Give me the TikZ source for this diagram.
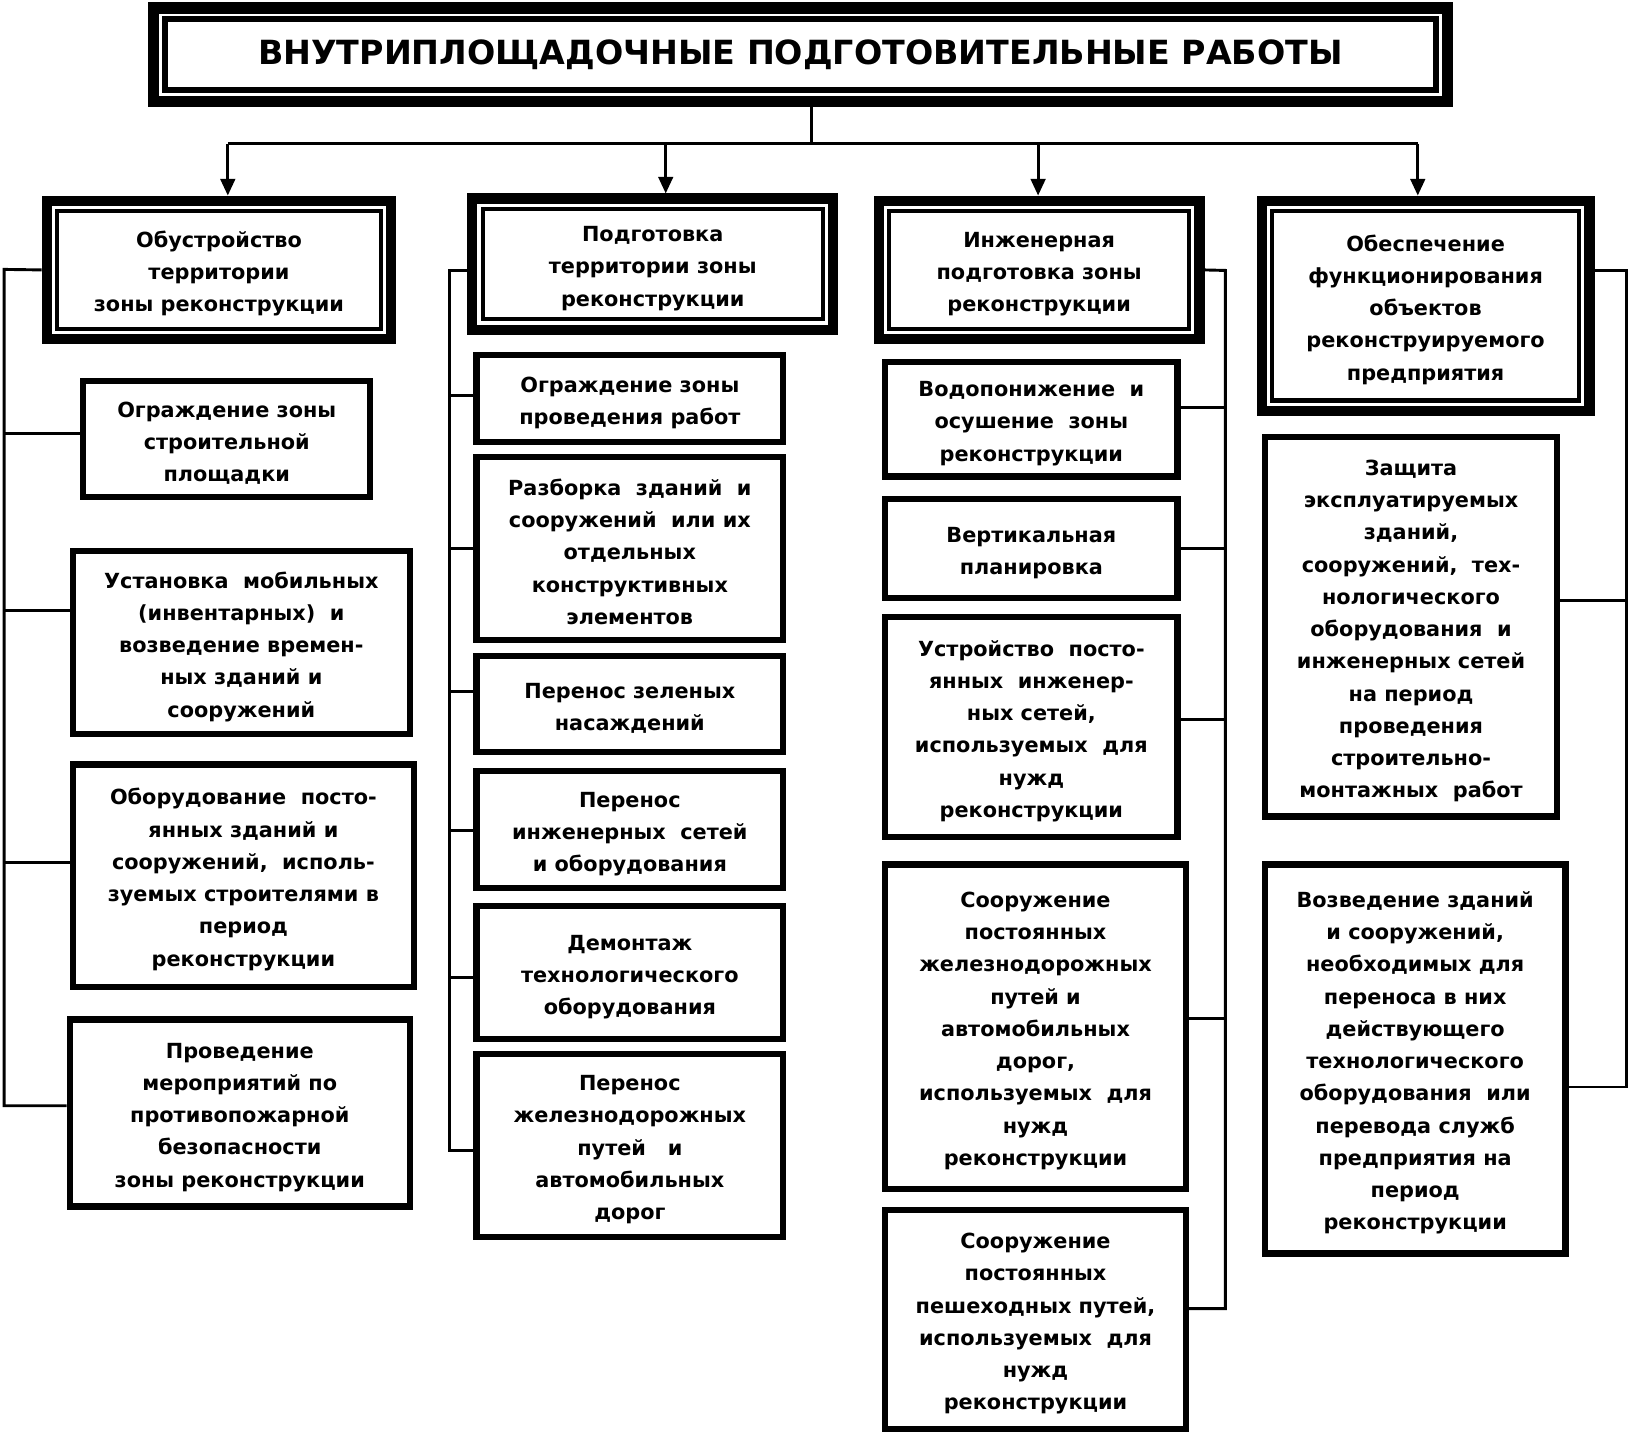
\documentclass[tikz,border=0pt]{standalone}
\usepackage{fontspec}
\setmainfont{DejaVu Sans}
\usetikzlibrary{arrows.meta}
\newcommand\fstr{\rule{0pt}{11.5pt}}
\begin{document}
\begin{tikzpicture}[x=0.5pt,y=-0.5pt,
  txt/.style={align=center, font=\bfseries\fontsize{10}{15.5}\selectfont, inner sep=0pt},
  box/.style={txt, draw, line width=3pt},
  hdr/.style={txt, draw, line width=5pt},
  conn/.style={line width=1.4pt},
  arr/.style={line width=1.4pt, -{Triangle[width=7pt,length=8pt]}},
  innerline/.style={line width=2pt}]
\useasboundingbox (0,0) rectangle (1568,1380);

% title
\node[draw, line width=5.5pt, inner sep=0pt, minimum width=622pt, minimum height=45pt,
      font=\bfseries\fontsize{16}{20}\selectfont] (title) at (769.5,52.5)
      {ВНУТРИПЛОЩАДОЧНЫЕ ПОДГОТОВИТЕЛЬНЫЕ РАБОТЫ};

% headers
\node[hdr, minimum width=165.5pt, minimum height=66.5pt] (h1) at (210.5,259.5)
  {\fstr Обустройство\\территории\\зоны реконструкции};
\node[hdr, minimum width=173.5pt, minimum height=63pt] (h2) at (627.5,254)
  {\fstr Подготовка\\территории зоны\\реконструкции};
\node[hdr, minimum width=154pt, minimum height=66.5pt] (h3) at (999,259.5)
  {\fstr Инженерная\\подготовка зоны\\реконструкции};
\node[hdr, minimum width=157.5pt, minimum height=101pt] (h4) at (1370.5,294)
  {\fstr Обеспечение\\функционирования\\объектов\\реконструируемого\\предприятия};

\foreach \n in {h1,h2,h3,h4}
  \draw[innerline] ([shift={(7.5pt,-7.5pt)}]\n.north west) rectangle ([shift={(-7.5pt,7.5pt)}]\n.south east);
\draw[line width=3pt] ([shift={(8.2pt,-8.2pt)}]title.north west) rectangle ([shift={(-8.2pt,8.2pt)}]title.south east);

% column 1
\node[box, minimum width=138pt, minimum height=56pt] (c11) at (218,422)
  {\fstr Ограждение зоны\\строительной\\площадки};
\node[box, minimum width=162pt, minimum height=88pt] (c12) at (232,618)
  {\fstr Установка\ \ мобильных\\(инвентарных)\ \ и\\возведение времен-\\ных зданий и\\сооружений};
\node[box, minimum width=164pt, minimum height=107pt] (c13) at (234,842)
  {\fstr Оборудование\ \ посто-\\янных зданий и\\сооружений,\ \ исполь-\\зуемых строителями в\\период\\реконструкции};
\node[box, minimum width=163.5pt, minimum height=90pt] (c14) at (230.5,1070)
  {\fstr Проведение\\мероприятий по\\противопожарной\\безопасности\\зоны реконструкции};

% column 2
\node[box, minimum width=147.5pt, minimum height=42pt] (c21) at (605.5,383)
  {\fstr Ограждение зоны\\проведения работ};
\node[box, minimum width=147.5pt, minimum height=88pt] (c22) at (605.5,527)
  {\fstr Разборка\ \ зданий\ \ и\\сооружений\ \ или их\\отдельных\\конструктивных\\элементов};
\node[box, minimum width=147.5pt, minimum height=46pt] (c23) at (605.5,677)
  {\fstr Перенос зеленых\\насаждений};
\node[box, minimum width=147.5pt, minimum height=56.5pt] (c24) at (605.5,797.5)
  {\fstr Перенос\\инженерных\ \ сетей\\и оборудования};
\node[box, minimum width=147.5pt, minimum height=64pt] (c25) at (605.5,935)
  {\fstr Демонтаж\\технологического\\оборудования};
\node[box, minimum width=147.5pt, minimum height=88pt] (c26) at (605.5,1101)
  {\fstr Перенос\\железнодорожных\\путей\ \ \ и\\автомобильных\\дорог};

% column 3
\node[box, minimum width=140.5pt, minimum height=55pt] (c31) at (991.5,403)
  {\fstr Водопонижение\ \ и\\осушение\ \ зоны\\реконструкции};
\node[box, minimum width=140.5pt, minimum height=47.5pt] (c32) at (991.5,527.5)
  {\fstr Вертикальная\\планировка};
\node[box, minimum width=140.5pt, minimum height=106pt] (c33) at (991.5,699)
  {\fstr Устройство\ \ посто-\\янных\ \ инженер-\\ных сетей,\\используемых\ \ для\\нужд\\реконструкции};
\node[box, minimum width=144.5pt, minimum height=156pt] (c34) at (995.5,987)
  {\fstr Сооружение\\постоянных\\железнодорожных\\путей и\\автомобильных\\дорог,\\используемых\ \ для\\нужд\\реконструкции};
\node[box, minimum width=144.5pt, minimum height=105.5pt] (c35) at (995.5,1268.5)
  {\fstr Сооружение\\постоянных\\пешеходных путей,\\используемых\ \ для\\нужд\\реконструкции};

% column 4
\node[box, minimum width=140.5pt, minimum height=182.5pt] (c41) at (1356.5,602.5)
  {\fstr Защита\\эксплуатируемых\\зданий,\\сооружений,\ \ тех-\\нологического\\оборудования\ \ и\\инженерных сетей\\на период\\проведения\\строительно-\\монтажных\ \ работ};
\node[box, minimum width=144.5pt, minimum height=187pt] (c42) at (1360.5,1018)
  {\fstr Возведение зданий\\и сооружений,\\необходимых для\\переноса в них\\действующего\\технологического\\оборудования\ \ или\\перевода служб\\предприятия на\\период\\реконструкции};

% top connectors
\coordinate (trunk) at (780,138);
\coordinate (bus1) at (219,138);
\coordinate (bus2) at (640,138);
\coordinate (bus3) at (998,138);
\coordinate (bus4) at (1363,138);
\draw[conn] (trunk |- title.south) -- (trunk);
\draw[conn] (bus1) -- (bus4);
\draw[arr] (bus1) -- (bus1 |- h1.north);
\draw[arr] (bus2) -- (bus2 |- h2.north);
\draw[arr] (bus3) -- (bus3 |- h3.north);
\draw[arr] (bus4) -- (bus4 |- h4.north);

% column 1 bracket
\coordinate (v1t) at (4,259);
\coordinate (v1b) at (4,1063);
\draw[conn] (h1.west) -- (v1t) -- (v1b) -- (c14.west |- v1b);
\draw[conn] (v1t |- 0,417) -- (c11.west |- 0,417);
\draw[conn] (v1t |- 0,587) -- (c12.west |- 0,587);
\draw[conn] (v1t |- 0,829) -- (c13.west |- 0,829);

% column 2 bracket
\coordinate (v2t) at (432,260);
\coordinate (v2b) at (432,1106);
\draw[conn] (h2.west |- v2t) -- (v2t) -- (v2b) -- (c26.west |- v2b);
\draw[conn] (v2t |- 0,380) -- (c21.west |- 0,380);
\draw[conn] (v2t |- 0,527) -- (c22.west |- 0,527);
\draw[conn] (v2t |- 0,665) -- (c23.west |- 0,665);
\draw[conn] (v2t |- 0,798) -- (c24.west |- 0,798);
\draw[conn] (v2t |- 0,940) -- (c25.west |- 0,940);

% column 3 bracket
\coordinate (v3t) at (1178,260);
\coordinate (v3b) at (1178,1258);
\draw[conn] (h3.east) -- (v3t) -- (v3b) -- (c35.east |- v3b);
\draw[conn] (v3t |- 0,392) -- (c31.east |- 0,392);
\draw[conn] (v3t |- 0,527) -- (c32.east |- 0,527);
\draw[conn] (v3t |- 0,692) -- (c33.east |- 0,692);
\draw[conn] (v3t |- 0,979) -- (c34.east |- 0,979);

% column 4 bracket
\coordinate (v4t) at (1564,260);
\coordinate (v4b) at (1564,1045);
\draw[conn] (h4.east |- v4t) -- (v4t) -- (v4b) -- (c42.east |- v4b);
\draw[conn] (v4t |- 0,577) -- (c41.east |- 0,577);
\end{tikzpicture}
\end{document}
